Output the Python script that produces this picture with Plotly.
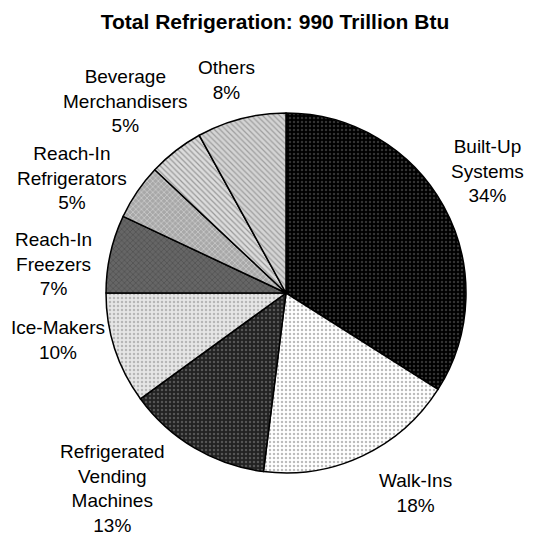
import plotly.graph_objects as go

labels = ["Built-Up<br>Systems", "Walk-Ins", "Refrigerated<br>Vending<br>Machines", "Ice-Makers",
          "Reach-In<br>Freezers", "Reach-In<br>Refrigerators", "Beverage<br>Merchandisers", "Others"]
values = [34, 18, 13, 10, 7, 5, 5, 8]

# styling (not data)
bgcolors = ["#000000", "#ffffff", "#222222", "#e6e6e6", "#666666", "#a8a8a8", "#dcdcdc", "#d4d4d4"]
fgcolors = ["#666666", "#777777", "#888888", "#888888", "#333333", "#ffffff", "#555555", "#666666"]
shapes = [".", ".", ".", ".", "x", "x", "\\", "\\"]
# label centres in pixels (layout)
label_px = [(487, 171), (415, 493), (112, 488), (58, 340), (53, 264), (72, 178), (125, 101), (226, 80)]

W = H = 537
FONT = "Liberation Sans, Arial"

fig = go.Figure(go.Pie(
    labels=labels, values=values, sort=False, direction="clockwise", rotation=0,
    textinfo="none",
    marker=dict(colors=bgcolors, line=dict(color="black", width=1.5),
                pattern=dict(shape=shapes, fgcolor=fgcolors, bgcolor=bgcolors,
                             size=4, solidity=0.3, fillmode="overlay")),
    showlegend=False, hoverinfo="skip",
    domain=dict(x=[106 / W, 466 / W], y=[1 - 473 / H, 1 - 113 / H]),
))

total = sum(values)
for lab, v, (px, py) in zip(labels, values, label_px):
    fig.add_annotation(
        x=px / W, y=1 - py / H, xref="paper", yref="paper",
        text=f"{lab}<br>{round(100 * v / total)}%", showarrow=False,
        xanchor="center", yanchor="middle", align="center",
        font=dict(family=FONT, size=19, color="black"),
    )

fig.update_layout(
    width=W, height=H, paper_bgcolor="white", plot_bgcolor="white",
    margin=dict(l=0, r=0, t=0, b=0),
    title=dict(text="<b>Total Refrigeration: 990 Trillion Btu</b>", x=275 / W, xanchor="center",
               y=1 - 22 / H, yanchor="middle", font=dict(family=FONT, size=21, color="black")),
)
fig.write_html("out.html")
